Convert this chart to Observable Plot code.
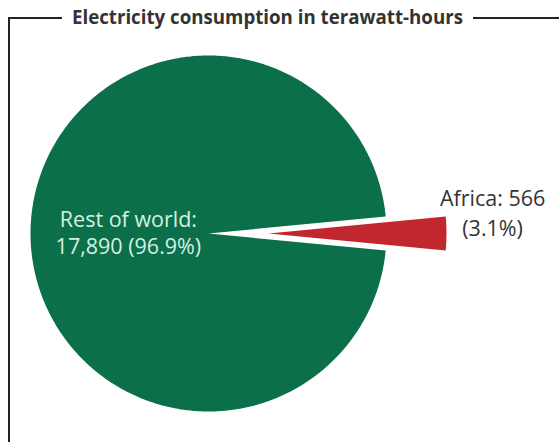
<!DOCTYPE html>
<html><head><meta charset="utf-8">
<script src="https://cdn.jsdelivr.net/npm/d3@7"></script>
<script src="https://cdn.jsdelivr.net/npm/@observablehq/plot@0.6"></script>
<style>
body{margin:0;background:#fff;}
#wrap{position:relative;width:559px;height:442px;overflow:hidden;}
#chart{position:absolute;left:0;top:0;}
#frame{position:absolute;left:8px;top:17px;width:600px;height:500px;border-top:2px solid #222;border-left:2px solid #222;}
#title{position:absolute;top:6px;left:62px;padding:0 10px;background:#fff;font-family:"Open Sans",sans-serif;font-weight:bold;font-size:18.7px;line-height:22px;color:#333;white-space:nowrap;}
</style></head><body>
<div id="wrap"><div id="chart"></div><div id="frame"></div><div id="title">Electricity consumption in terawatt-hours</div></div>
<script>
const categories = ["Africa", "Rest of world"];
const values = [566, 17890];
const valueLabels = ["566", "17,890"];
const shares = ["3.1%", "96.9%"];
const colors = ["#c1272d", "#0b6f4a"];
const explode = [0.337, 0];

const total = d3.sum(values);
const aAfrica = 2 * Math.PI * values[0] / total;
const start = Math.PI / 2 - aAfrica / 2;
const data = categories.map((name, i) => ({name, value: values[i], i}));
const arcs = d3.pie().sort(null).value(d => d.value).startAngle(start).endAngle(start + 2 * Math.PI)(data);

const pts = [];
arcs.forEach(a => {
  const mid = (a.startAngle + a.endAngle) / 2;
  const e = explode[a.data.i];
  const ox = e * Math.sin(mid), oy = e * Math.cos(mid);
  pts.push({name: a.data.name, x: ox, y: oy});
  const n = Math.max(4, Math.ceil((a.endAngle - a.startAngle) / 0.01));
  for (let k = 0; k <= n; k++) {
    const t = a.startAngle + (a.endAngle - a.startAngle) * k / n;
    pts.push({name: a.data.name, x: ox + Math.sin(t), y: oy + Math.cos(t)});
  }
  pts.push({name: a.data.name, x: ox, y: oy});
});

const labelDist = [1.596, 0.45];
const labels = arcs.map(a => {
  const mid = (a.startAngle + a.endAngle) / 2;
  const i = a.data.i;
  return {
    name: a.data.name,
    x: labelDist[i] * Math.sin(mid),
    y: labelDist[i] * Math.cos(mid),
    text: i === 0 ? `${categories[i]}: ${valueLabels[i]}\n(${shares[i]})` : `${categories[i]}:\n${valueLabels[i]} (${shares[i]})`
  };
});

const R = 178, cx = 208, cy = 233, W = 559, H = 442;
const plot = Plot.plot({
  width: W, height: H, margin: 0,
  style: {background: "transparent"},
  x: {domain: [-cx / R, (W - cx) / R], axis: null},
  y: {domain: [-(H - cy) / R, cy / R], axis: null},
  color: {domain: categories, range: colors},
  marks: [
    Plot.line(pts, {x: "x", y: "y", z: "name", fill: "name", stroke: null, curve: "linear"}),
    Plot.text(labels.filter(d => d.name === "Rest of world"), {x: "x", y: "y", text: "text", fill: "#d6efe2", fontSize: 21.5, fontFamily: "Open Sans, sans-serif", lineHeight: 1.26, dy: -2}),
    Plot.text(labels.filter(d => d.name === "Africa"), {x: "x", y: "y", text: "text", fill: "#333", fontSize: 21.5, fontFamily: "Open Sans, sans-serif", lineHeight: 1.4, dy: -22})
  ]
});
document.getElementById("chart").appendChild(plot);
</script>
</body></html>
